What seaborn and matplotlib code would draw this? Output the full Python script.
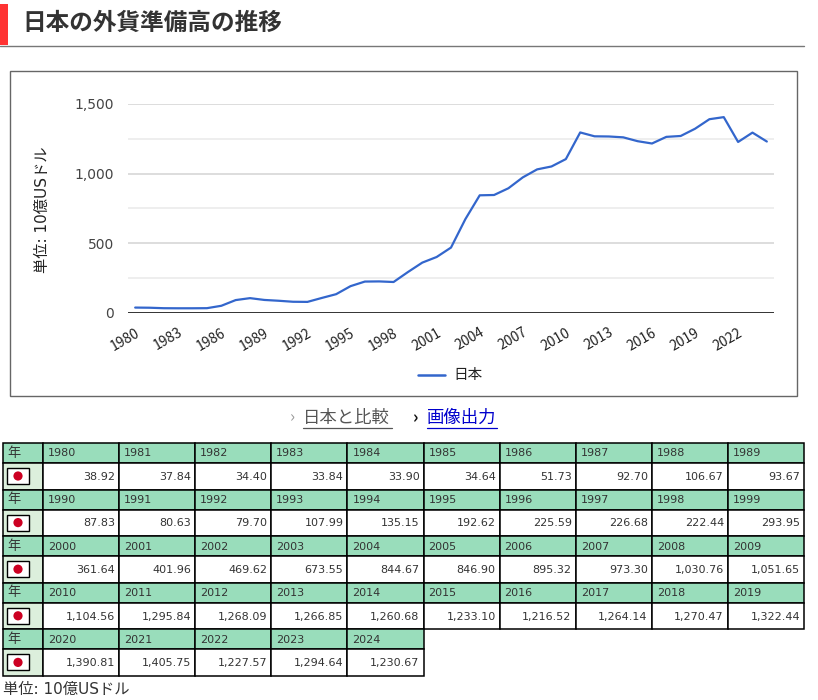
import matplotlib
matplotlib.use("Agg")
import matplotlib.pyplot as plt
import seaborn as sns
import pandas as pd
from matplotlib.patches import Rectangle, Circle

# ---------------- data ----------------
years = [1980, 1981, 1982, 1983, 1984, 1985, 1986, 1987, 1988, 1989,
         1990, 1991, 1992, 1993, 1994, 1995, 1996, 1997, 1998, 1999,
         2000, 2001, 2002, 2003, 2004, 2005, 2006, 2007, 2008, 2009,
         2010, 2011, 2012, 2013, 2014, 2015, 2016, 2017, 2018, 2019,
         2020, 2021, 2022, 2023, 2024]
reserves = [38.92, 37.84, 34.40, 33.84, 33.90, 34.64, 51.73, 92.70, 106.67, 93.67,
            87.83, 80.63, 79.70, 107.99, 135.15, 192.62, 225.59, 226.68, 222.44, 293.95,
            361.64, 401.96, 469.62, 673.55, 844.67, 846.90, 895.32, 973.30, 1030.76, 1051.65,
            1104.56, 1295.84, 1268.09, 1266.85, 1260.68, 1233.10, 1216.52, 1264.14, 1270.47, 1322.44,
            1390.81, 1405.75, 1227.57, 1294.64, 1230.67]
series_name = "日本"
title = "日本の外貨準備高の推移"
unit_label = "単位: 10億USドル"
y_ticks = [0, 500, 1000, 1500]
y_ticklabels = ["0", "500", "1,000", "1,500"]
y_minor = [250, 750, 1250]

# ---------------- style ----------------
sns.set_theme(style="white")
plt.rcParams["font.family"] = ["Noto Sans CJK JP", "DejaVu Sans"]
MIX = ["DejaVu Sans", "Noto Sans CJK JP"]

W, H = 818, 700
fig = plt.figure(figsize=(W / 100, H / 100), dpi=100)
fig.patch.set_facecolor("white")

# background "page" axes in pixel coordinates
bg = fig.add_axes([0, 0, 1, 1])
bg.set_xlim(0, W)
bg.set_ylim(H, 0)
bg.axis("off")

# title block
bg.add_patch(Rectangle((0, 4), 8, 41, color="#ff3333", lw=0))
bg.plot([0, 804], [45.5, 45.5], color="#777777", lw=1)
bg.text(22, 23, title, fontsize=17, fontweight="bold", va="center", ha="left", color="#333333")

# chart frame
bg.add_patch(Rectangle((9.5, 70.5), 787, 325, fill=False, ec="#666666", lw=1))

# ---------------- line chart ----------------
px_l, px_r, px_t, px_b = 128, 774, 104, 313
ax = fig.add_axes([px_l / W, 1 - px_b / H, (px_r - px_l) / W, (px_b - px_t) / H])
ax.set_facecolor("none")
df = pd.DataFrame({"idx": list(range(len(years))), "value": reserves})

for v in y_minor:
    ax.axhline(v, color="#eeeeee", lw=1.4, zorder=0)
for v in y_ticks[1:]:
    ax.axhline(v, color="#dddddd", lw=1.4, zorder=0)
ax.axhline(0, color="#333333", lw=1.4, zorder=3)

sns.lineplot(data=df, x="idx", y="value", ax=ax, color="#3366cc", lw=1.6, zorder=2)

ax.set_xlim(-0.5, len(years) - 0.5)
ax.set_ylim(0, 1500)
ax.set_yticks(y_ticks)
ax.set_yticklabels(y_ticklabels, color="#444444", fontsize=10, family=MIX)
xt = list(range(0, len(years), 3))
xt = [i for i in xt if years[i] <= 2022]
ax.set_xticks(xt)
ax.set_xticklabels([str(years[i]) for i in xt], rotation=30, ha="right",
                   rotation_mode="anchor", color="#222222", fontsize=10)
ax.tick_params(axis="y", length=0, pad=10)
ax.tick_params(axis="x", length=0, pad=9)
for s in ax.spines.values():
    s.set_visible(False)
ax.set_xlabel("")
ax.set_ylabel(unit_label, fontsize=11, color="#222222", family=MIX)
ax.yaxis.set_label_coords((50 - px_l) / (px_r - px_l), (px_b - 210) / (px_b - px_t))
ax.grid(False)

# legend
bg.plot([418, 445], [375, 375], color="#3366cc", lw=1.8)
bg.text(453, 375, series_name, fontsize=10.5, va="center", ha="left", color="#222222")

# links
bg.text(290, 418, "›", fontsize=12, color="#999999", va="center")
bg.text(303, 418, "日本と比較", fontsize=12.5, color="#555555", va="center")
bg.plot([303, 392], [428, 428], color="#555555", lw=0.9)
bg.text(413, 418, "›", fontsize=12, color="#111111", va="center", fontweight="bold")
bg.text(427, 418, "画像出力", fontsize=12.5, color="#0000cc", va="center")
bg.plot([427, 497], [428, 428], color="#0000cc", lw=0.9)

# ---------------- table ----------------
hdr_col = "#99ddbb"
flag_bg = "#dcefdc"
x_first, x_col0, col_w = 3, 43, 76.1
row_top0, hdr_h, dat_h = 443, 20, 26.6
per_row = 10
edge_lw = 1.1

for g in range(0, len(years), per_row):
    gi = g // per_row
    y0 = row_top0 + gi * (hdr_h + dat_h)
    y1 = y0 + hdr_h
    # first column
    bg.add_patch(Rectangle((x_first, y0), x_col0 - x_first, hdr_h, fc=hdr_col, ec="black", lw=edge_lw))
    bg.text(x_first + 4, y0 + hdr_h / 2, "年", fontsize=9.5, va="center", ha="left", color="#333333")
    bg.add_patch(Rectangle((x_first, y1), x_col0 - x_first, dat_h, fc=flag_bg, ec="black", lw=edge_lw))
    bg.add_patch(Rectangle((7, y1 + 5), 22, 16, fc="white", ec="black", lw=1))
    bg.add_patch(Circle((18, y1 + 13), 4.6, color="#cc0022", lw=0))
    for k, yr in enumerate(years[g:g + per_row]):
        cx = x_col0 + k * col_w
        bg.add_patch(Rectangle((cx, y0), col_w, hdr_h, fc=hdr_col, ec="black", lw=edge_lw))
        bg.text(cx + 5, y0 + hdr_h / 2 + 0.5, str(yr), fontsize=8, family="DejaVu Sans",
                va="center", ha="left", color="#333333")
        bg.add_patch(Rectangle((cx, y1), col_w, dat_h, fc="white", ec="black", lw=edge_lw))
        bg.text(cx + col_w - 4, y1 + dat_h / 2 + 0.5, f"{reserves[g + k]:,.2f}", fontsize=8,
                family="DejaVu Sans", va="center", ha="right", color="#333333")

bg.text(3, 689, unit_label, fontsize=11, va="center", ha="left", color="#333333", family=MIX)

fig.savefig("out.png", dpi=100)
